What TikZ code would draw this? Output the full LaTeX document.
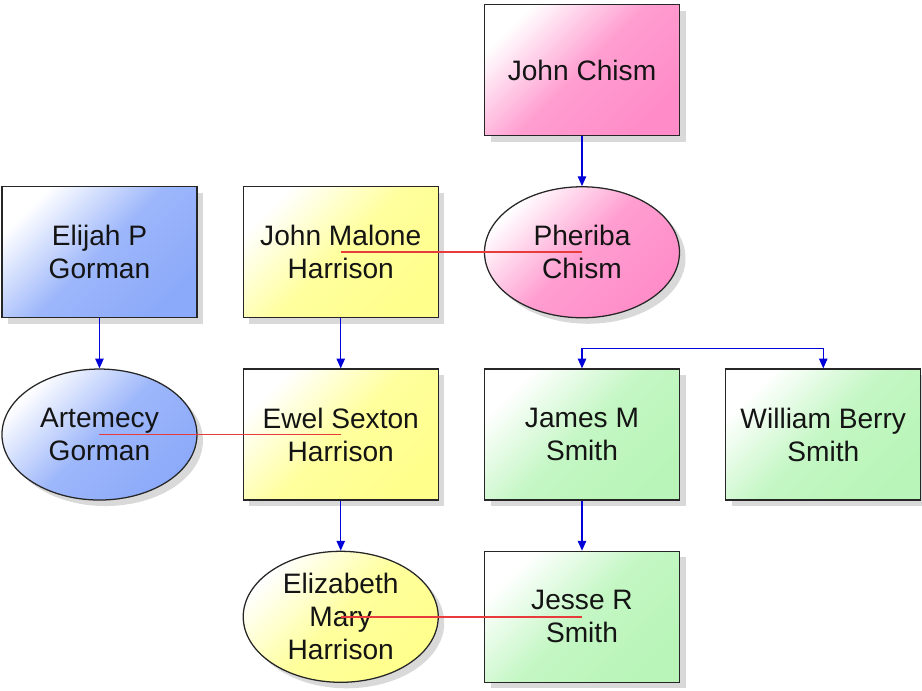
\documentclass[tikz,border=0pt]{standalone}
\usepackage{fontspec}
\setmainfont{Liberation Sans}
\usepackage{xcolor}
\usetikzlibrary{shapes,arrows.meta,positioning,calc,shadows}
\definecolor{chismpink}{RGB}{255,140,200}
\definecolor{gormanblue}{RGB}{140,170,250}
\definecolor{harrisonyellow}{RGB}{255,255,140}
\definecolor{smithgreen}{RGB}{185,245,185}
\begin{document}
\begin{tikzpicture}[
    font=\fontsize{20}{23.5}\selectfont,
    node distance=1.25cm and 1.125cm,
    box/.style={rectangle, draw=black!85, line width=0.9pt, minimum width=4.875cm, minimum height=3.275cm,
        align=center, text=black!92, top color=white, bottom color=#1, middle color=#1!85!white, shading angle=45,
        drop shadow={shadow xshift=0.15cm, shadow yshift=-0.15cm, opacity=0.15, fill=black}},
    oval/.style={box=#1, ellipse, inner sep=0pt, inner ysep=-0.3cm},
    child line/.style={draw=blue!85!black, line width=0.9pt, -{Triangle[length=7pt,width=6pt]}},
    wed/.style={draw={rgb,255:red,232;green,60;blue,60}, line width=1.1pt}
]
    \useasboundingbox (0,0) rectangle (23.05,-17.25);
    \node[box=chismpink] (chism) at (14.55,-1.75) {John Chism};
    \node[oval=chismpink, below=of chism] (pheriba) {Pheriba\\Chism};
    \node[box=harrisonyellow, left=of pheriba] (johnmalone) {John Malone\\Harrison};
    \node[box=gormanblue, left=of johnmalone] (elijah) {Elijah P\\Gorman};
    \node[oval=gormanblue, below=of elijah] (artemecy) {Artemecy\\Gorman};
    \node[box=harrisonyellow, below=of johnmalone] (ewel) {Ewel Sexton\\Harrison};
    \node[box=smithgreen, below=of pheriba] (james) {James M\\Smith};
    \node[box=smithgreen, right=of james] (william) {William Berry\\Smith};
    \node[oval=harrisonyellow, below=of ewel] (elizabeth) {Elizabeth\\Mary\\Harrison};
    \node[box=smithgreen, below=of james] (jesse) {Jesse R\\Smith};

    \draw[child line] (chism) -- (pheriba);
    \draw[child line] (elijah) -- (artemecy);
    \draw[child line] (johnmalone) -- (ewel);
    \draw[child line] (ewel) -- (elizabeth);
    \draw[child line] (james) -- (jesse);
    \coordinate (smithkids) at ($(james.north)!0.5!(william.north)+(0,0.5)$);
    \draw[child line] (smithkids) -| (james);
    \draw[child line] (smithkids) -| (william);

    \draw[wed] (johnmalone.center) -- (pheriba.center);
    \draw[wed] (artemecy.center) -- (ewel.center);
    \draw[wed] (elizabeth.center) -- (jesse.center);
\end{tikzpicture}
\end{document}
